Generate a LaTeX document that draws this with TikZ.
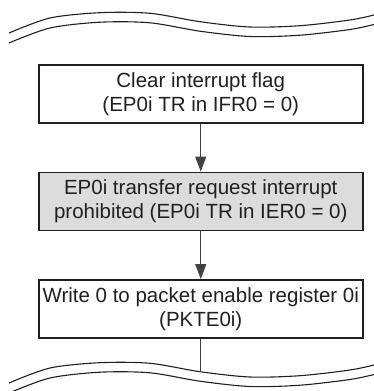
\documentclass[tikz,border=0pt]{standalone}
\usepackage{fontspec}
\setmainfont{Liberation Sans}
\usetikzlibrary{arrows.meta}
\definecolor{ink}{HTML}{231F20}
\definecolor{boxgray}{HTML}{DCDCDC}
\begin{document}
\begin{tikzpicture}[x=1pt,y=-1pt,
  stepbox/.style={draw=ink,line width=1.9pt,minimum width=324pt,minimum height=58pt,
    inner sep=0pt,align=center,text=ink,
    font=\fontsize{20.5pt}{24pt}\selectfont},
  flow/.style={draw=ink!85,line width=1.1pt,-{Triangle[width=11pt,length=15pt]}},
  plain/.style={draw=ink!85,line width=1.1pt},
  wave/.style={draw=ink,line width=1.1pt}]
\useasboundingbox (0,0) rectangle (374,391);
% top break
\draw[wave] plot[smooth] coordinates {(9,33) (50,18) (100,12.7) (150,13.3) (200,21.7) (250,27) (300,25.7) (350,20) (374,15)};
\draw[wave] plot[smooth] coordinates {(9,43) (50,28) (100,22.2) (150,22.8) (200,31.2) (250,36.5) (300,35.2) (350,29.5) (374,24.5)};
% bottom break
\draw[wave] plot[smooth] coordinates {(9,383) (50,368) (100,362.7) (150,363.3) (200,371.7) (250,377) (300,375.7) (350,370) (374,365)};
\draw[wave] plot[smooth] coordinates {(9,393) (50,378) (100,372.2) (150,372.8) (200,381.2) (250,386.5) (300,385.2) (350,379.5) (374,374.5)};
\node[stepbox,fill=white] (b1) at (200.75,93.75) {Clear interrupt flag\\(EP0i TR in IFR0 = 0)};
\node[stepbox,fill=boxgray] (b2) at (200.75,201.5) {EP0i transfer request interrupt\\prohibited (EP0i TR in IER0 = 0)};
\node[stepbox,fill=white] (b3) at (200.75,309) {Write 0 to packet enable register 0i\\(PKTE0i)};
\coordinate (e) at (200.75,371.7);
\draw[flow] (b1) -- (b2);
\draw[flow] (b2) -- (b3);
\draw[plain] (b3) -- (e);
\end{tikzpicture}
\end{document}
